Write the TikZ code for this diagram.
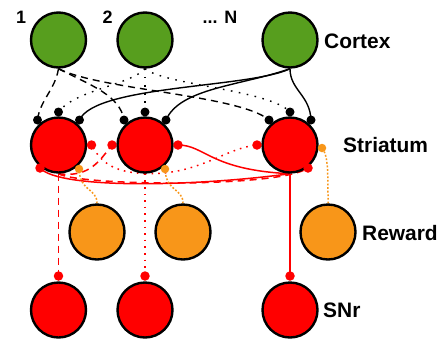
\documentclass[tikz,border=0pt]{standalone}
\usepackage{fontspec}
\setmainfont{Liberation Sans}
\usetikzlibrary{calc,backgrounds}
\definecolor{cgreen}{RGB}{87,158,30}
\definecolor{corange}{RGB}{248,150,25}
\definecolor{cred}{RGB}{255,0,0}
\begin{document}
\begin{tikzpicture}[x=1bp,y=-1bp,
  neuron/.style={circle,draw=black,line width=2.4bp,minimum size=55bp,inner sep=0pt},
  cortexn/.style={neuron,fill=cgreen},
  striatn/.style={neuron,fill=cred},
  rewardn/.style={neuron,fill=corange},
  snrn/.style={neuron,fill=cred},
  bdot/.style={circle,fill=black,minimum size=9bp,inner sep=0pt},
  rdot/.style={circle,fill=cred,minimum size=9.5bp,inner sep=0pt},
  odot/.style={circle,fill=corange,minimum size=8.5bp,inner sep=0pt},
  lbl/.style={font=\fontsize{21}{25}\selectfont\bfseries,inner sep=0pt,anchor=west},
  numlbl/.style={font=\fontsize{18}{22}\selectfont\bfseries,inner sep=0pt,anchor=base},
  blk/.style={line width=1.4bp,black},
  redl/.style={line width=1.5bp,cred},
  orl/.style={line width=1.5bp,corange,dash pattern=on 1.8bp off 1.8bp},
  dsh/.style={dash pattern=on 7bp off 5bp},
  dtb/.style={dash pattern=on 1.6bp off 6.5bp},
  dtr/.style={dash pattern=on 1.6bp off 5bp}
]
\useasboundingbox (0,0) rectangle (440,341);
% neurons
\node[cortexn] (c1) at (58.5,40) {};
\node[cortexn] (c2) at (145,40) {};
\node[cortexn] (c3) at (290,40) {};
\node[striatn] (s1) at (58.5,145) {};
\node[striatn] (s2) at (145,145) {};
\node[striatn] (s3) at (290,145) {};
\node[rewardn] (r1) at (97,232) {};
\node[rewardn] (r2) at (183,232) {};
\node[rewardn] (r3) at (328,232) {};
\node[snrn] (n1) at (58.5,310) {};
\node[snrn] (n2) at (145,310) {};
\node[snrn] (n3) at (290,310) {};
% labels
\node[numlbl] (l1) at (21,23) {1};
\node[numlbl] (l2) at (107.5,23) {2};
\node[numlbl] (l3) at (220,23) {... N};
\node[lbl] (lc) at (324,41) {Cortex};
\node[lbl] (ls) at (343,145) {Striatum};
\node[lbl] (lr) at (362,233) {Reward};
\node[lbl] (ln) at (323,310) {SNr};
% synapse dots
\foreach \s in {1,2,3}{
  \node[bdot] (s\s a) at ($(s\s)+(-21,-25)$) {};
  \node[bdot] (s\s b) at ($(s\s)+(0,-33)$) {};
  \node[bdot] (s\s c) at ($(s\s)+(21,-25)$) {};
  \node[rdot] (n\s d) at ($(n\s)+(0,-34)$) {};
}
\node[rdot] (s1r) at ($(s1)+(33,0)$) {};
\node[rdot] (s2l) at ($(s2)+(-33,0)$) {};
\node[rdot] (s2r) at ($(s2)+(33,0)$) {};
\node[rdot] (s3l) at ($(s3)+(-33,0)$) {};
\node[rdot] (s1bl) at ($(s1)+(-18.5,23)$) {};
\node[rdot] (s3br) at ($(s3)+(18,23)$) {};
\node[odot] (s1o) at ($(s1)+(20.5,24)$) {};
\node[odot] (s2o) at ($(s2)+(20,24)$) {};
\node[odot] (s3o) at ($(s3)+(32,3)$) {};
\begin{scope}[on background layer]
% cortex 1 -> striatum (dashed)
\draw[blk,dsh] (c1.south) .. controls (55,90) and (40,100) .. (s1a.center);
\draw[blk,dsh] (c1.south) .. controls (90,85) and (120,95) .. (s2a.center);
\draw[blk,dsh] (c1.south) .. controls (100,90) and (240,95) .. (s3a.center);
% cortex 2 -> striatum (dotted)
\draw[blk,dtb] (c2.south) .. controls (130,85) and (75,90) .. (s1b.center);
\draw[blk,dtb] (c2.south) -- (s2b.center);
\draw[blk,dtb] (c2.south) .. controls (165,85) and (270,90) .. (s3b.center);
% cortex 3 -> striatum (solid)
\draw[blk] (c3.south) .. controls (250,88) and (95,85) .. (s1c.center);
\draw[blk] (c3.south) .. controls (240,86) and (180,88) .. (s2c.center);
\draw[blk] (c3.south) .. controls (290,90) and (310,95) .. (s3c.center);
% striatum -> SNr
\draw[redl,dsh] (s1.south) -- (n1d.center);
\draw[redl,dtr] (s2.south) -- (n2d.center);
\draw[redl] (s3.south) -- (n3d.center);
% lateral inhibition
\draw[redl,dsh] (s1.south) .. controls (90,178) and (100,160) .. (s2l.center);
\draw[redl,dsh] (s1.south) .. controls (80,186) and (280,188) .. (s3br.center);
\draw[redl,dtr] (s2.south) .. controls (110,172) and (100,160) .. (s1r.center);
\draw[redl,dtr] (s2.south) .. controls (200,175) and (225,148) .. (s3l.center);
\draw[redl] (s3.south) .. controls (210,170) and (205,145) .. (s2r.center);
\draw[redl] (s3.south) .. controls (200,186) and (60,190) .. (s1bl.center);
% reward -> striatum
\draw[orl] (r1.north) .. controls (97,188) and (80,192) .. (s1o.center);
\draw[orl] (r2.north) .. controls (183,188) and (166,192) .. (s2o.center);
\draw[orl] (r3.north) .. controls (328,170) and (328,155) .. (s3o.center);
\end{scope}
\end{tikzpicture}
\end{document}
